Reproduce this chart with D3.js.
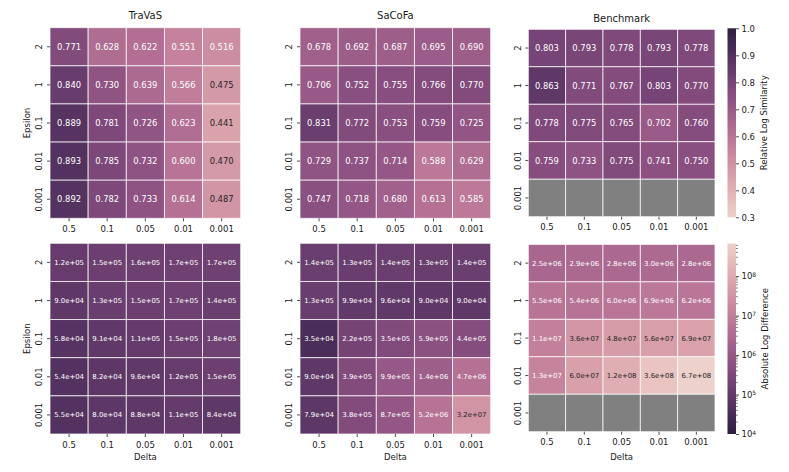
<!DOCTYPE html>
<html><head><meta charset="utf-8">
<script src="https://cdn.jsdelivr.net/npm/d3@7"></script>
<style>
body{margin:0;background:#fff}
svg{display:block}
text{font-family:"DejaVu Sans",sans-serif;fill:#1a1a1a}
</style>
</head><body><svg id="c" width="789" height="472"></svg>
<script>
// ---------------- data ----------------
const deltas   = ["0.5","0.1","0.05","0.01","0.001"];
const epsilons = ["2","1","0.1","0.01","0.001"];
const methods  = ["TraVaS","SaCoFa","Benchmark"];

const simTraVaS = [
  [0.771,0.628,0.622,0.551,0.516],
  [0.840,0.730,0.639,0.566,0.475],
  [0.889,0.781,0.726,0.623,0.441],
  [0.893,0.785,0.732,0.600,0.470],
  [0.892,0.782,0.733,0.614,0.487]];
const simSaCoFa = [
  [0.678,0.692,0.687,0.695,0.690],
  [0.706,0.752,0.755,0.766,0.770],
  [0.831,0.772,0.753,0.759,0.725],
  [0.729,0.737,0.714,0.588,0.629],
  [0.747,0.718,0.680,0.613,0.585]];
const simBenchmark = [
  [0.803,0.793,0.778,0.793,0.778],
  [0.863,0.771,0.767,0.803,0.770],
  [0.778,0.775,0.765,0.702,0.760],
  [0.759,0.733,0.775,0.741,0.750],
  [null,null,null,null,null]];

const diffTraVaS = [
  [1.2e5,1.5e5,1.6e5,1.7e5,1.7e5],
  [9.0e4,1.3e5,1.5e5,1.7e5,1.4e5],
  [5.8e4,9.1e4,1.1e5,1.5e5,1.8e5],
  [5.4e4,8.2e4,9.6e4,1.2e5,1.5e5],
  [5.5e4,8.0e4,8.8e4,1.1e5,8.4e4]];
const diffSaCoFa = [
  [1.4e5,1.3e5,1.4e5,1.3e5,1.4e5],
  [1.3e5,9.9e4,9.6e4,9.0e4,9.0e4],
  [3.5e4,2.2e5,3.5e5,5.9e5,4.4e5],
  [9.0e4,3.9e5,9.9e5,1.4e6,4.7e6],
  [7.9e4,3.8e5,8.7e5,5.2e6,3.2e7]];
const diffBenchmark = [
  [2.5e6,2.9e6,2.8e6,3.0e6,2.8e6],
  [5.5e6,5.4e6,6.0e6,6.9e6,6.2e6],
  [1.1e7,3.6e7,4.8e7,5.6e7,6.9e7],
  [1.3e7,6.0e7,1.2e8,3.6e8,6.7e8],
  [null,null,null,null,null]];

const simDomain  = [0.3, 1.0];
const simTicks   = [0.3,0.4,0.5,0.6,0.7,0.8,0.9,1.0];
const diffDomain = [1e4, 6.7e8];
const diffTicks  = [1e4,1e5,1e6,1e7,1e8];

// ---------------- colour ----------------
function cubehelix(x){
  const a = 0.8*x*(1-x)/2, phi = 2*Math.PI*(0.4*x);
  const c = Math.cos(phi), s = Math.sin(phi);
  return [x + a*(-0.14861*c + 1.78277*s),
          x + a*(-0.29227*c - 0.90649*s),
          x + a*(1.97294*c)].map(v=>Math.max(0,Math.min(1,v)));
}
function chRGB(t){ // t: 0 light -> 1 dark
  return cubehelix(0.85 - 0.7*t);
}
function toCss(rgb){ return d3.rgb(rgb[0]*255,rgb[1]*255,rgb[2]*255).formatHex(); }
function lum(rgb){
  const l = rgb.map(v=> v<=0.03928 ? v/12.92 : Math.pow((v+0.055)/1.055,2.4));
  return 0.2126*l[0]+0.7152*l[1]+0.0722*l[2];
}
const simT  = d3.scaleLinear().domain(simDomain).range([0,1]).clamp(true);
const diffT = d3.scaleLog().domain(diffDomain).range([1,0]).clamp(true);

function fmtExp(v){
  const s = v.toExponential(1); // e.g. 1.2e+5
  return s.replace(/e([+-])(\d)$/, "e$10$2");
}

// ---------------- layout ----------------
const svg = d3.select("#c");
const colBox = [[50,240.7],[300,490.7],[528.3,715]];
const rowBox = [
  [[27.7,218.3],[27.7,218.3],[29.3,216.7]],
  [[243.3,434],[243.3,434],[244.4,431.7]]];
const titleY = [18.5,19.2,21.7];

const rows = [
  {data:[simTraVaS,simSaCoFa,simBenchmark], t:v=>simT(v), fmt:d3.format(".3f"), fs:8.4},
  {data:[diffTraVaS,diffSaCoFa,diffBenchmark], t:v=>diffT(v), fmt:fmtExp, fs:6.9}];

rows.forEach((row,ri)=>{
  methods.forEach((m,ci)=>{
    const [x0,x1] = colBox[ci], [y0,y1] = rowBox[ri][ci];
    const x = d3.scaleBand().domain(deltas).range([x0,x1]);
    const y = d3.scaleBand().domain(epsilons).range([y0,y1]);
    const g = svg.append("g");
    const cells = [];
    row.data[ci].forEach((r,i)=>r.forEach((v,j)=>cells.push({e:epsilons[i],d:deltas[j],v})));
    g.selectAll("rect").data(cells).join("rect")
      .attr("x",c=>x(c.d)).attr("y",c=>y(c.e))
      .attr("width",x.bandwidth()).attr("height",y.bandwidth())
      .attr("fill",c=> c.v==null ? "#808080" : toCss(chRGB(row.t(c.v))))
      .attr("stroke","#fff").attr("stroke-opacity",0.8).attr("stroke-width",0.9);
    g.selectAll("text.an").data(cells.filter(c=>c.v!=null)).join("text")
      .attr("class","an")
      .attr("x",c=>x(c.d)+x.bandwidth()/2).attr("y",c=>y(c.e)+y.bandwidth()/2)
      .attr("dy","0.36em").attr("text-anchor","middle")
      .style("font-size",row.fs+"px")
      .style("fill",c=> lum(chRGB(row.t(c.v)))>0.36 ? "#262626" : "#ffffff")
      .text(c=>row.fmt(c.v));

    // x axis
    const xa = svg.append("g").attr("transform",`translate(0,${y1})`)
      .call(d3.axisBottom(x).tickSize(3).tickPadding(4.6));
    xa.select(".domain").remove();
    xa.selectAll("line").attr("stroke","#222").attr("stroke-width",0.8);
    xa.selectAll("text").style("font-size","8.5px").style("fill","#1a1a1a");

    // y axis
    const ya = svg.append("g").attr("transform",`translate(${x0},0)`)
      .call(d3.axisLeft(y).tickSize(3));
    ya.select(".domain").remove();
    ya.selectAll("line").attr("stroke","#222").attr("stroke-width",0.8);
    ya.selectAll("text").attr("x",null).attr("dy",null)
      .attr("text-anchor","middle")
      .attr("transform","translate(-7.8,0) rotate(-90)")
      .style("font-size","8.5px").style("fill","#1a1a1a");

    if(ri===0){
      svg.append("text").attr("x",(x0+x1)/2).attr("y",titleY[ci])
        .attr("text-anchor","middle").style("font-size","10px").text(m);
    }
    if(ci===0){
      svg.append("text").attr("transform",`translate(30,${(y0+y1)/2}) rotate(-90)`)
        .attr("text-anchor","middle").style("font-size","8.5px").text("Epsilon");
    }
    if(ri===1){
      svg.append("text").attr("x",(x0+x1)/2).attr("y",459.5)
        .attr("text-anchor","middle").style("font-size","8.5px").text("Delta");
    }
  });
});

// ---------------- colorbars ----------------
const defs = svg.append("defs");
function gradient(id, fn){
  const gr = defs.append("linearGradient").attr("id",id)
    .attr("x1",0).attr("y1",1).attr("x2",0).attr("y2",0);
  d3.range(0,1.0001,0.02).forEach(p=>{
    gr.append("stop").attr("offset",p).attr("stop-color",toCss(chRGB(fn(p))));
  });
}
gradient("gSim", p=>p);
gradient("gDiff", p=>1-p);

const cbX0 = 727.5, cbX1 = 736;
// similarity colorbar
{
  const [y0,y1] = [28.3,217.3];
  svg.append("rect").attr("x",cbX0).attr("y",y0).attr("width",cbX1-cbX0).attr("height",y1-y0)
    .attr("fill","url(#gSim)");
  const s = d3.scaleLinear().domain(simDomain).range([y1,y0]);
  const a = svg.append("g").attr("transform",`translate(${cbX1},0)`)
    .call(d3.axisRight(s).tickValues(simTicks).tickFormat(d3.format(".1f")).tickSize(3).tickPadding(2.5));
  a.select(".domain").remove();
  a.selectAll("line").attr("stroke","#222").attr("stroke-width",0.8);
  a.selectAll("text").style("font-size","8.5px").style("fill","#1a1a1a");
  svg.append("text").attr("transform",`translate(767,${(y0+y1)/2}) rotate(-90)`)
    .attr("text-anchor","middle").style("font-size","8.5px").text("Relative Log Similarity");
}
// difference colorbar (log)
{
  const [y0,y1] = [243.5,434];
  svg.append("rect").attr("x",cbX0).attr("y",y0).attr("width",cbX1-cbX0).attr("height",y1-y0)
    .attr("fill","url(#gDiff)");
  const s = d3.scaleLog().domain(diffDomain).range([y1,y0]);
  const minor = [];
  for(let k=4;k<=8;k++) for(let m=2;m<=9;m++){ const v=m*Math.pow(10,k); if(v<=diffDomain[1]) minor.push(v); }
  svg.append("g").selectAll("line").data(minor).join("line")
    .attr("x1",cbX1).attr("x2",cbX1+1.8).attr("y1",d=>s(d)).attr("y2",d=>s(d))
    .attr("stroke","#222").attr("stroke-width",0.6);
  const a = svg.append("g").attr("transform",`translate(${cbX1},0)`)
    .call(d3.axisRight(s).tickValues(diffTicks).tickFormat("").tickSize(3));
  a.select(".domain").remove();
  a.selectAll("line").attr("stroke","#222").attr("stroke-width",0.8);
  a.selectAll(".tick").each(function(d){
    const t = d3.select(this).append("text").attr("x",5.5).attr("dy","0.32em")
      .attr("text-anchor","start").style("font-size","8.5px").style("fill","#1a1a1a");
    t.append("tspan").text("10");
    t.append("tspan").attr("dy","-0.45em").style("font-size","6px").text(Math.round(Math.log10(d)));
  });
  svg.append("text").attr("transform",`translate(767.5,${(y0+y1)/2}) rotate(-90)`)
    .attr("text-anchor","middle").style("font-size","8.5px").text("Absolute Log Difference");
}
</script>
</body></html>
